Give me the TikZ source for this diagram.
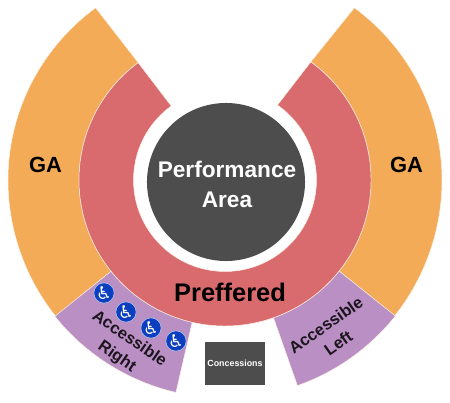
\documentclass[tikz,border=0pt]{standalone}
\usepackage{fontspec}
\setmainfont{Liberation Sans}
\newfontfamily\iconfont{DejaVu Sans}
\definecolor{gaorange}{HTML}{F3AB57}
\definecolor{prefred}{HTML}{D96B6E}
\definecolor{acclilac}{HTML}{B98FC4}
\definecolor{stagegray}{HTML}{4D4D4D}
\definecolor{wheelblue}{HTML}{0C3FC0}
\begin{document}
\begin{tikzpicture}[
  x=0.025cm,y=0.025cm,
  seat/.style={draw=white!85!gaorange,line width=0.35pt},
  label/.style={font=\bfseries\fontsize{#1}{#1}\selectfont,text=black,inner sep=0pt},
  access/.style={font=\bfseries\fontsize{11.7}{15.5}\selectfont,text=black!85!acclilac,align=center,inner sep=0pt},
  wheel/.style={circle,fill=wheelblue,draw=white!70!wheelblue,line width=0.4pt,minimum size=0.45cm,inner sep=0pt,text=white,font=\iconfont\fontsize{12.5}{12.5}\selectfont}
]
\useasboundingbox (0,0) rectangle (450,403);
\begin{scope}[shift={(225,223)}]
\fill[gaorange,seat] (126.5:146) arc[start angle=126.5,end angle=218.7,radius=146] -- (218.7:217 and 218) arc[start angle=218.7,end angle=180,x radius=217,y radius=218] arc[start angle=180,end angle=126.6,x radius=217,y radius=214.5] -- cycle;
\fill[gaorange,seat] (54:146) arc[start angle=54,end angle=-38.6,radius=146] -- (-38.6:217 and 218) arc[start angle=-38.6,end angle=0,x radius=217,y radius=218] arc[start angle=0,end angle=53.4,x radius=217,y radius=214.5] -- cycle;
\fill[acclilac,seat] (218.7:146) arc[start angle=218.7,end angle=257,radius=146] -- (257:218) arc[start angle=257,end angle=218.7,radius=218] -- cycle;
\fill[acclilac,seat] (-70.6:146) arc[start angle=-70.6,end angle=-38.6,radius=146] -- (-38.6:218) arc[start angle=-38.6,end angle=-70.6,radius=218] -- cycle;
\fill[prefred,seat] (126:91.5) arc[start angle=126,end angle=415,radius=91.5] -- (54:146) arc[start angle=414,end angle=126.5,radius=146] -- cycle;
\end{scope}
\node[circle,fill=stagegray,minimum size=3.95cm,inner sep=0pt] (perf) at (226,221) {};
\node[text=white,align=center,inner sep=0pt,font=\bfseries\fontsize{16.1}{21.3}\selectfont] (perftext) at (227,219) {Performance\\Area};
\node[label=15.6] (galeft) at (45.5,238) {GA};
\node[label=15.6] (garight) at (406.5,238) {GA};
\node[label=18.1] (pref) at (230,111) {Preffered};
\node[access,rotate=-34.5] (accright) at (123,55) {Accessible\\Right};
\node[access,rotate=35] (accleft) at (332,69) {Accessible\\Left};
\node[rectangle,fill=stagegray,minimum width=1.5cm,minimum height=1.08cm,inner sep=0pt,text=white,font=\bfseries\fontsize{6.3}{6.3}\selectfont] (conc) at (235,39.5) {Concessions};
\foreach \i/\cx/\cy in {1/104/110,2/126/91,3/151/75,4/176/62}
  \node[wheel] (wheel\i) at (\cx,\cy) {\symbol{"267F}};
\end{tikzpicture}
\end{document}
